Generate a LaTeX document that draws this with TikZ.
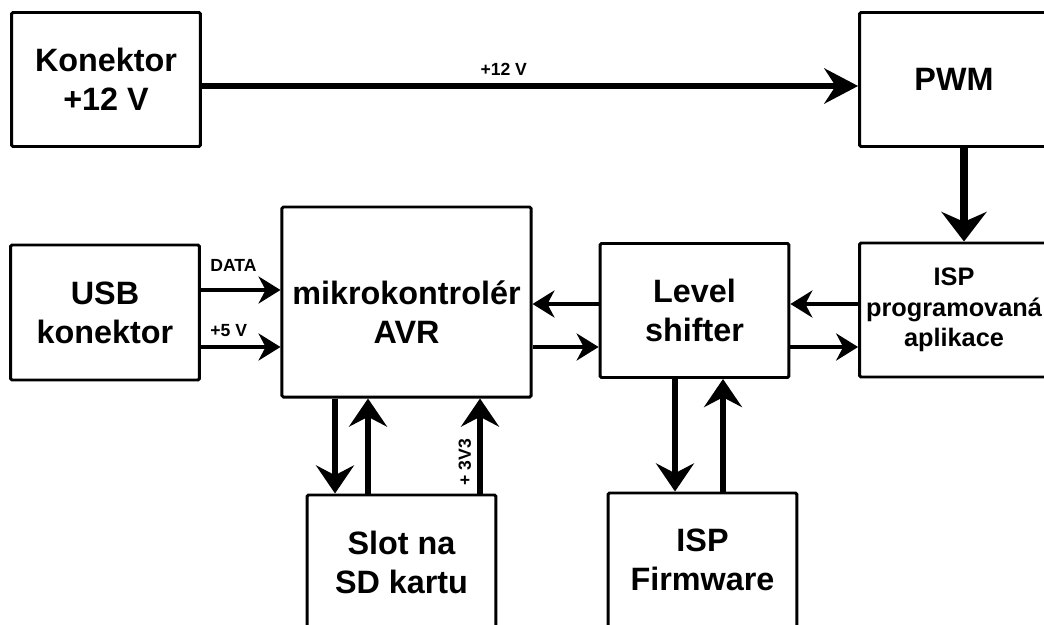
\documentclass[tikz,border=0pt]{standalone}
\usepackage{fontspec}
\setmainfont{Liberation Sans}
\usetikzlibrary{arrows.meta}

\begin{document}
\begin{tikzpicture}[x=0.025cm,y=-0.025cm,
  blok/.style={draw,line width=2.1pt,rounded corners=1pt,inner sep=0pt,
    minimum width=4.72cm,minimum height=3.35cm,align=center,
    font=\fontsize{23}{27.7}\selectfont\bfseries},
  popis/.style={inner sep=0pt,font=\fontsize{12.5}{15}\selectfont\bfseries},
  sipka/.style={line width=3.2pt,-{Stealth[length=15.6pt,width=19.2pt,inset=5pt]}},
  svisla/.style={line width=3.6pt,-{Stealth[length=20pt,width=27pt,inset=7pt]}},
  napajeni/.style={line width=4.3pt,-{Stealth[length=24pt,width=25pt,inset=8pt]}},
  silna/.style={line width=5.7pt,-{Stealth[length=21pt,width=32pt,inset=7pt]}}]
\fill[white] (0,0) rectangle (1044,624);
\useasboundingbox (0,0) rectangle (1044,624);
\clip (0,0) rectangle (1044,624);

% bloky
\node[blok] (kon) at (106,79.5) {Konektor\\+12 V};
\node[blok] (pwm) at (954,79.5) {PWM};
\node[blok,minimum height=3.375cm] (usb) at (105,312.5) {USB\\konektor};
\node[blok,minimum width=6.225cm,minimum height=4.75cm] (mcu) at (406.5,302) {};
\node[font=\fontsize{23}{27.7}\selectfont\bfseries,align=center] (mcutext) at (406.5,312) {mikrokontrolér\\AVR};
\node[blok] (lvl) at (694.5,310.5) {Level\\shifter};
\node[blok,font=\fontsize{18}{21.7}\selectfont\bfseries] (isp) at (954,310) {ISP\\programovaná\\aplikace};
\node[blok] (sd) at (401.5,562) {Slot na\\SD kartu};
\node[blok] (fw) at (702.5,560) {ISP\\Firmware};

% napajeni 12 V
\draw[napajeni] (kon.east |- 0,86) -- (pwm.west |- 0,86)
  node[popis,pos=.46,anchor=south,outer sep=7.8pt] {+12 V};
\draw[silna] (pwm.south -| 964,0) -- (isp.north -| 964,0);

% USB
\draw[sipka] (usb.east |- 0,290) -- (mcu.west |- 0,290)
  node[popis,pos=0,anchor=base west,xshift=0.18cm,yshift=0.45cm] {DATA};
\draw[sipka] (usb.east |- 0,347) -- (mcu.west |- 0,347)
  node[popis,pos=0,anchor=base west,xshift=0.18cm,yshift=0.275cm] {+5 V};

% mikrokontroler - level shifter - aplikace
\draw[sipka] (lvl.west |- 0,304) -- (mcu.east |- 0,304);
\draw[sipka] (mcu.east |- 0,347) -- (lvl.west |- 0,347);
\draw[sipka] (isp.west |- 0,304) -- (lvl.east |- 0,304);
\draw[sipka] (lvl.east |- 0,347) -- (isp.west |- 0,347);

% SD karta
\draw[svisla] (mcu.south -| 335,0) -- (sd.north -| 335,0);
\draw[svisla] (sd.north -| 368,0) -- (mcu.south -| 368,0);
\draw[svisla] (sd.north -| 480,0) -- (mcu.south -| 480,0)
  node[popis,pos=.33,rotate=90,anchor=south,outer sep=6.4pt] {+ 3V3};

% ISP firmware
\draw[svisla] (lvl.south -| 675,0) -- (fw.north -| 675,0);
\draw[svisla] (fw.north -| 723,0) -- (lvl.south -| 723,0);
\end{tikzpicture}
\end{document}
